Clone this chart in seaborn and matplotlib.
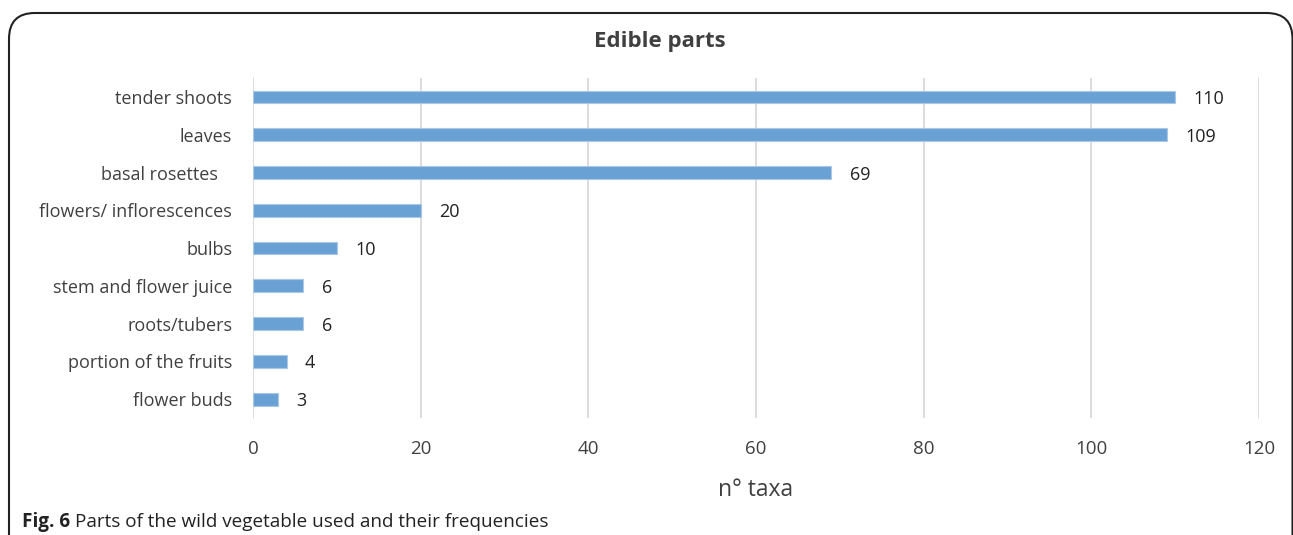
import matplotlib
matplotlib.use("Agg")
import matplotlib.pyplot as plt
import seaborn as sns
import pandas as pd
from matplotlib.patches import FancyBboxPatch

# data
parts = ['tender shoots', 'leaves', 'basal rosettes   ', 'flowers/ inflorescences', 'bulbs',
         'stem and flower juice', 'roots/tubers', 'portion of the fruits', 'flower buds']
n_taxa = [110, 109, 69, 20, 10, 6, 6, 4, 3]
x_ticks = [0, 20, 40, 60, 80, 100, 120]

df = pd.DataFrame({'part': parts, 'taxa': n_taxa})

sns.set_theme(style='white')
plt.rcParams['font.family'] = ['Open Sans', 'DejaVu Sans']

text_col = '#404040'
bar_col = '#6aa1d4'

fig = plt.figure(figsize=(12.93, 5.35), dpi=100)
ax = fig.add_axes([0.1957, 0.2187, 0.778, 0.6353])

sns.barplot(data=df, x='taxa', y='part', orient='h', color=bar_col, width=0.34,
            saturation=1, edgecolor='#a9c8e8', linewidth=0.8, ax=ax, zorder=3)

ax.set_xlim(0, 120)
ax.set_ylim(8.5, -0.5)
ax.set_xticks(x_ticks)
ax.xaxis.grid(True, color='#d9d9d9', linewidth=1.3, zorder=0)
ax.yaxis.grid(False)
for s in ax.spines.values():
    s.set_visible(False)
ax.tick_params(axis='x', colors=text_col, labelsize=13.5, length=0, pad=16)
ax.tick_params(axis='y', colors=text_col, labelsize=13, length=0, pad=15)
ax.set_ylabel('')
ax.set_xlabel('n° taxa', fontsize=16.5, color=text_col, labelpad=14)

for i, v in enumerate(n_taxa):
    ax.text(v + 2.2, i, str(v), va='center_baseline', ha='left', fontsize=13, color='#222222')

fig.text(0.5105, 0.923, 'Edible parts', ha='center', va='center', fontsize=16,
         fontweight='bold', color=text_col)

# caption
fig.canvas.draw()
cap1 = fig.text(22 / 1293, 0.025, 'Fig. 6', ha='left', va='center', fontsize=13.6,
                fontweight='bold', color='#222222')
bb = cap1.get_window_extent(renderer=fig.canvas.get_renderer())
fig.text((bb.x1 + 5) / 1293, 0.025, 'Parts of the wild vegetable used and their frequencies',
         ha='left', va='center', fontsize=13.6, color='#222222')

# rounded frame
frame = FancyBboxPatch((9 / 1293, -0.1), (1292.5 - 9) / 1293, 1.1 - 13 / 535,
                       boxstyle='round,pad=0,rounding_size=0.02', transform=fig.transFigure,
                       facecolor='none', edgecolor='#222222', linewidth=1.5,
                       mutation_aspect=1293 / 535)
fig.patches.append(frame)

fig.savefig('out.png', dpi=100)
